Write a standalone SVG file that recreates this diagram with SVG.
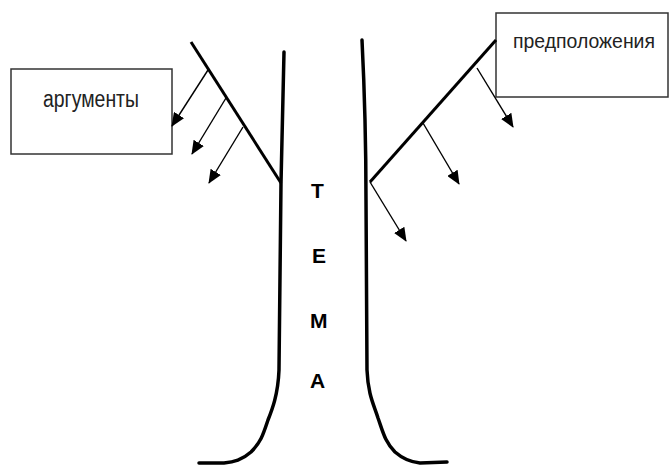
<svg xmlns="http://www.w3.org/2000/svg" width="670" height="466" viewBox="0 0 670 466">
<defs>
<marker id="ah" markerUnits="userSpaceOnUse" markerWidth="14" markerHeight="12" viewBox="0 0 14 12" refX="13" refY="6" orient="auto">
<path d="M0,0 L14,6 L0,12 z" fill="#000"/>
</marker>
</defs>
<style>
.box{fill:#fff;stroke:#333;stroke-width:1.5}
.lbl{font-family:"Liberation Sans",Arial,sans-serif;font-size:23px;fill:#222}
.let{font-family:"Liberation Sans",Arial,sans-serif;font-size:21px;font-weight:bold;fill:#000}
.trunk{fill:none;stroke:#000;stroke-width:3.5;stroke-linecap:round;stroke-linejoin:round}
.bone{fill:none;stroke:#000;stroke-width:3}
.arr{fill:none;stroke:#000;stroke-width:1.4;marker-end:url(#ah)}
</style>
<g id="trunk">
<path class="trunk" d="M284,52 L281,183 L279,370 C278,395 272,410 268,420 C263,435 261,442 251,452 C242,460 234,462 224,463 L199,463"/>
<path class="trunk" d="M362,40 C365,100 366,150 366,200 L367,370 C368,395 374,405 378,418 C383,432 385,442 395,452 C403,459 410,462 420,463 L447,462"/>
</g>
<g id="argumenty">
<rect class="box" x="11" y="69" width="161" height="85"/>
<text class="lbl" x="43" y="107" textLength="96" lengthAdjust="spacingAndGlyphs">аргументы</text>
</g>
<g id="predpolozheniya">
<rect class="box" x="496" y="13" width="172" height="84"/>
<text class="lbl" x="513" y="48" style="font-size:21px" textLength="142" lengthAdjust="spacingAndGlyphs">предположения</text>
</g>
<g id="tema">
<text class="let" x="311" y="198">Т</text>
<text class="let" x="312" y="263">Е</text>
<text class="let" x="310" y="328">М</text>
<text class="let" x="310" y="388">А</text>
</g>
<g id="connectors">
<line class="bone" x1="191" y1="42" x2="281" y2="183"/>
<line class="bone" x1="370" y1="182" x2="496" y2="40"/>
<line class="arr" x1="208" y1="70" x2="172" y2="126"/>
<line class="arr" x1="226" y1="98" x2="192" y2="154"/>
<line class="arr" x1="243" y1="127" x2="209" y2="183"/>
<line class="arr" x1="477" y1="68" x2="513" y2="127"/>
<line class="arr" x1="423" y1="123" x2="459" y2="184"/>
<line class="arr" x1="370" y1="182" x2="406" y2="241"/>
</g>
</svg>
